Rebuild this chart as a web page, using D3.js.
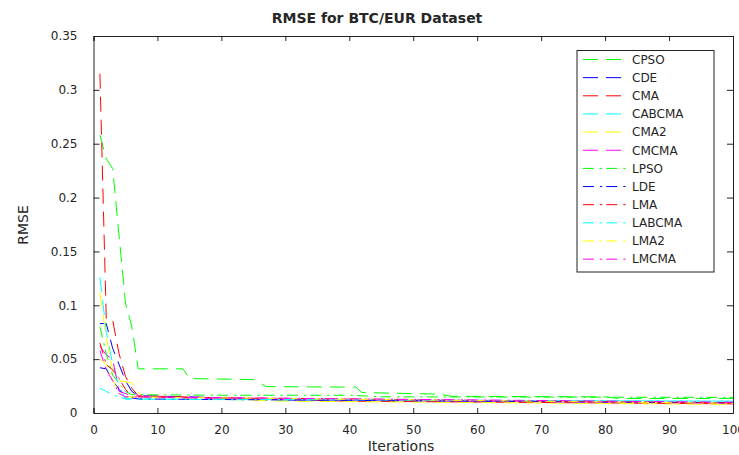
<!DOCTYPE html>
<html>
<head>
<meta charset="utf-8">
<script src="https://cdn.jsdelivr.net/npm/d3@7"></script>
<style>
  body { margin: 0; background: #fff; }
  text { font-family: "DejaVu Sans", sans-serif; fill: #262626; }
</style>
</head>
<body>
<div id="chart"></div>
<script>
// RMSE curves, [iteration, value] break points
const cpso   = [[1,.258],[2,.236],[3,.227],[5,.102],[6,.08],[7,.041],[14,.041],[15,.032],[25,.031],[27,.0245],[41,.024],[42,.019],[54,.0175],[56,.0155],[80,.015],[82,.0135],[100,.0135]]
const cde    = [[1,.083],[2,.083],[3,.06],[4,.045],[5,.03],[6,.02],[7,.016],[15,.015],[30,.012],[60,.011],[100,.0095]]
const cma    = [[1,.315],[2,.087],[3,.086],[4,.055],[5,.034],[6,.023],[7,.016],[20,.014],[40,.011],[100,.0085]]
const cabcma = [[1,.126],[2,.075],[3,.045],[4,.025],[5,.013],[30,.012],[100,.011]]
const cma2   = [[1,.112],[2,.07],[3,.04],[4,.03],[6,.028],[7,.019],[8,.015],[30,.011],[100,.008]]
const cmcma  = [[1,.062],[2,.054],[3,.05],[4,.02],[6,.016],[10,.015],[20,.013],[100,.009]]
const lpso   = [[1,.08],[2,.055],[3,.035],[4,.028],[5,.02],[6,.017],[20,.0165],[40,.0165],[45,.015],[100,.0145]]
const lde    = [[1,.042],[2,.041],[3,.03],[4,.022],[5,.015],[7,.013],[100,.0095]]
const lma    = [[1,.065],[2,.045],[3,.04],[4,.032],[5,.022],[6,.015],[100,.0095]]
const labcma = [[1,.023],[2,.02],[3,.017],[5,.013],[100,.011]]
const lma2   = [[1,.05],[2,.045],[3,.03],[4,.02],[5,.015],[100,.009]]
const lmcma  = [[1,.058],[2,.04],[3,.03],[4,.018],[5,.015],[100,.01]]

const seriesNames = ["CPSO","CDE","CMA","CABCMA","CMA2","CMCMA","LPSO","LDE","LMA","LABCMA","LMA2","LMCMA"]
const seriesData = [cpso,cde,cma,cabcma,cma2,cmcma,lpso,lde,lma,labcma,lma2,lmcma]
const xTicks = d3.range(0, 101, 10)
const yTicks = [0, 0.05, 0.1, 0.15, 0.2, 0.25, 0.3, 0.35]

const colors = ["#00ff00","#0000ff","#ff0000","#00ffff","#ffff00","#ff00ff"]
const dashed = "15,8"
const dashdot = "11,6,2.3,4"

const width = 739, height = 455
const margin = {top: 36, right: 6, bottom: 42, left: 93.5}

const svg = d3.select("#chart").append("svg")
  .attr("width", width).attr("height", height)

const x = d3.scaleLinear().domain([0,100]).range([margin.left, width - margin.right])
const y = d3.scaleLinear().domain([0,0.35]).range([height - margin.bottom, margin.top])

svg.append("clipPath").attr("id","clip").append("rect")
  .attr("x", x(0)).attr("y", y(0.35))
  .attr("width", x(100) - x(0)).attr("height", y(0) - y(0.35))

const line = d3.line().x(d => x(d[0])).y(d => y(d[1]))

const plot = svg.append("g").attr("clip-path","url(#clip)")
seriesData.forEach((s, i) => {
  plot.append("path")
    .attr("d", line(s))
    .attr("fill","none")
    .attr("stroke", colors[i % 6])
    .attr("stroke-width", 1)
    .attr("stroke-dasharray", i < 6 ? dashed : dashdot)
})

// axes, matlab style: ticks inside, box all round
const axisColor = "#222"
const fmt = d => d === 0 ? "0" : String(d)

svg.append("g").attr("transform", `translate(0,${y(0)})`)
  .call(d3.axisBottom(x).tickValues(xTicks).tickSize(-5).tickPadding(12).tickFormat(fmt))
svg.append("g").attr("transform", `translate(0,${y(0.35)})`)
  .call(d3.axisTop(x).tickValues(xTicks).tickSize(-5).tickFormat(""))
svg.append("g").attr("transform", `translate(${x(0)},0)`)
  .call(d3.axisLeft(y).tickValues(yTicks).tickSize(-6).tickPadding(16).tickFormat(fmt))
svg.append("g").attr("transform", `translate(${x(100)},0)`)
  .call(d3.axisRight(y).tickValues(yTicks).tickSize(-6).tickFormat(""))

svg.selectAll(".domain, .tick line").attr("stroke", axisColor)
svg.selectAll(".tick text").attr("font-size", 12).attr("font-family","DejaVu Sans").attr("fill","#262626")

svg.append("text")
  .attr("x", 377).attr("y", 23)
  .attr("text-anchor","middle").attr("font-size", 14).attr("font-weight","bold")
  .text("RMSE for BTC/EUR Dataset")

svg.append("text")
  .attr("x", 401).attr("y", 451)
  .attr("text-anchor","middle").attr("font-size", 14)
  .text("Iterations")

svg.append("text")
  .attr("transform", "translate(28,225) rotate(-90)")
  .attr("text-anchor","middle").attr("font-size", 14)
  .text("RMSE")

// legend
const lg = svg.append("g")
lg.append("rect")
  .attr("x", 577).attr("y", 50.5).attr("width", 137).attr("height", 221.5)
  .attr("fill","#fff").attr("stroke", axisColor)
seriesNames.forEach((name, i) => {
  const ly = 59.5 + i * 18.15
  lg.append("line")
    .attr("x1", 583).attr("x2", 626).attr("y1", ly).attr("y2", ly)
    .attr("stroke", colors[i % 6]).attr("stroke-width", 1)
    .attr("stroke-dasharray", i < 6 ? dashed : dashdot)
  lg.append("text")
    .attr("x", 632).attr("y", ly + 4.3)
    .attr("font-size", 12)
    .text(name)
})
</script>
</body>
</html>
